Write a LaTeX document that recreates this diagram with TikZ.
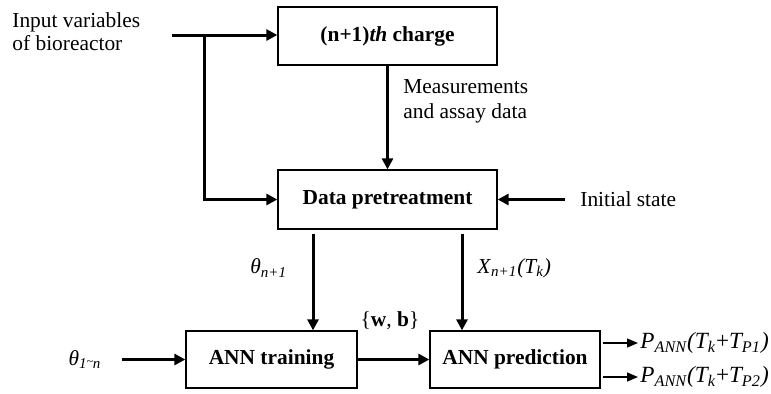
\documentclass[tikz,border=0pt]{standalone}
\usepackage{fontspec}
\setmainfont{Liberation Serif}
\usetikzlibrary{arrows.meta}
\newcommand{\sub}[1]{\textsubscript{\itshape #1}}
\begin{document}
\begin{tikzpicture}[x=0.5pt,y=-0.5pt,
  font=\fontsize{10.7}{12}\selectfont,
  block/.style={draw,line width=0.65pt,inner sep=0pt,font=\fontsize{10.7}{12}\selectfont\bfseries},
  flow/.style={line width=1.5pt,-{Triangle[length=5.5pt,width=5.5pt]}},
  thin flow/.style={line width=0.65pt,-{Triangle[length=5.5pt,width=4.5pt]}},
  lbl/.style={inner sep=0pt,align=left}]
\useasboundingbox (0,0) rectangle (771,393);

% process blocks
\node[block,minimum width=109.5pt,minimum height=29pt] (b1) at (387.5,36) {(n+1)\textit{th} charge};
\node[block,minimum width=109.5pt,minimum height=29.5pt] (b2) at (387.5,199.5) {Data pretreatment};
\node[block,minimum width=85.5pt,minimum height=28.5pt] (b3) at (271.5,359.5) {ANN training};
\node[block,minimum width=85pt,minimum height=28.5pt] (b4) at (515,359.5) {ANN prediction};

% labels
\node[lbl,anchor=north west,font=\fontsize{10.7}{11.5}\selectfont] (inp) at (12,12) {Input variables\\of bioreactor};
\node[lbl,anchor=north west,font=\fontsize{10.7}{12.5}\selectfont] (meas) at (403,79) {Measurements\\and assay data};
\node[lbl,anchor=west] (init) at (580,199.5) {Initial state};
\node[lbl,anchor=west] (th1) at (250,268) {\textit{θ}\sub{n+1}};
\node[lbl,anchor=west] (xn) at (477,268) {\textit{X}\sub{n+1}\textit{(T\sub{k})}};
\node[lbl] (thn) at (85,359.5) {\textit{θ}\sub{1\raisebox{0.4ex}{\scalebox{0.8}{\textasciitilde}}n}};
\node[lbl] (wb) at (390,321) {\{\textbf{w}, \textbf{b}\}};
\node[lbl,anchor=west,font=\fontsize{11.6}{13}\selectfont] (p1) at (640,343) {\textit{P}\sub{ANN}\textit{(T\sub{k}}+\textit{T\sub{P1})}};
\node[lbl,anchor=west,font=\fontsize{11.6}{13}\selectfont] (p2) at (640,377) {\textit{P}\sub{ANN}\textit{(T\sub{k}}+\textit{T\sub{P2})}};

% helper coordinates
\coordinate (in) at (172,35);
\coordinate (br) at (204,35);
\coordinate (is) at (565,199.5);
\coordinate (tx) at (313,0);
\coordinate (px) at (462,0);
\coordinate (ts) at (122,359.5);
\coordinate (o1) at (638,343);
\coordinate (o2) at (638,377);

% connectors
\draw[flow] (in) -- (in -| b1.west);
\draw[flow] (br) |- (b2.west);
\draw[flow] (b1.south) -- (b2.north);
\draw[flow] (is) -- (b2.east);
\draw[flow,shorten <=2pt] (tx |- b2.south) -- (tx |- b3.north);
\draw[flow,shorten <=2pt] (px |- b2.south) -- (px |- b4.north);
\draw[flow] (ts) -- (b3.west);
\draw[flow] (b3.east) -- (b4.west);
\draw[thin flow,shorten <=1pt] (b4.east |- o1) -- (o1);
\draw[thin flow,shorten <=1pt] (b4.east |- o2) -- (o2);
\end{tikzpicture}
\end{document}
